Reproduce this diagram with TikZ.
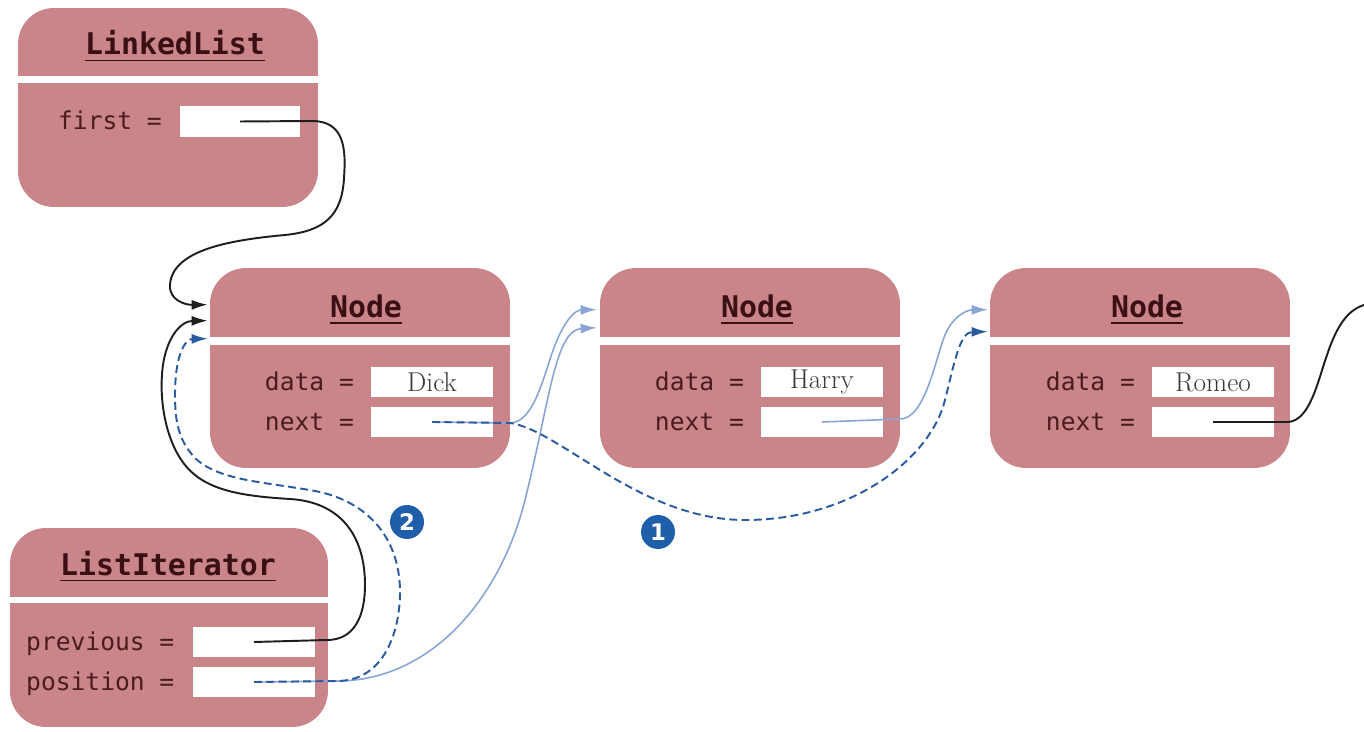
\documentclass[tikz,border=0pt]{standalone}
\usepackage{fontspec}
\setmonofont{DejaVu Sans Mono}
\newfontfamily\numfont{DejaVu Sans}
\usetikzlibrary{arrows.meta,calc}
\definecolor{objpink}{RGB}{201,133,137}
\definecolor{lbltext}{RGB}{74,28,32}
\definecolor{ttltext}{RGB}{58,16,21}
\definecolor{valtext}{RGB}{60,55,55}
\definecolor{lightblue}{RGB}{138,164,214}
\definecolor{darkblue}{RGB}{42,90,160}
\definecolor{badgeblue}{RGB}{31,94,168}
\definecolor{ptrblack}{RGB}{30,30,30}
\tikzset{
  obj/.style={rectangle, rounded corners=0.72cm, fill=objpink, inner sep=0pt, minimum width=6cm, minimum height=3.98cm},
  ttl/.style={font=\fontsize{17}{20}\selectfont\ttfamily\bfseries, text=ttltext, inner sep=0pt, anchor=base},
  ul/.style={draw=ttltext, line width=1.1pt},
  lbl/.style={font=\fontsize{14}{16}\selectfont\ttfamily, text=lbltext, inner sep=0pt, anchor=mid east, yshift=-0.09cm},
  fld/.style={rectangle, fill=white, inner sep=0pt, minimum width=2.44cm, minimum height=0.6cm, font=\fontsize{15.5}{18}\selectfont, text=valtext},
  blackptr/.style={draw=ptrblack, line width=1.1pt, -{Latex[length=0.32cm,width=0.2cm]}},
  lightptr/.style={draw=lightblue, line width=0.9pt, -{Latex[length=0.32cm,width=0.2cm]}},
  dashptr/.style={draw=darkblue, line width=1.1pt, dash pattern=on 4.5pt off 2.5pt, -{Latex[length=0.32cm,width=0.2cm]}},
  badge/.style={circle, fill=badgeblue, text=white, minimum size=0.68cm, inner sep=0pt, font=\numfont\bfseries\fontsize{13}{15}\selectfont},
}
\begin{document}
\begin{tikzpicture}[x=0.02cm, y=-0.02cm]
\useasboundingbox (0,0) rectangle (1364,732);

% ---------- LinkedList ----------
\node[obj] (ll) at (168,107.5) {};
\fill[white] (ll.west |- 0,76) rectangle (ll.east |- 0,83);
\node[ttl] (llt) at (175,55) {LinkedList};
\draw[ul] ([yshift=-0.11cm]llt.base west) -- ([yshift=-0.11cm]llt.base east);
\node[fld, minimum width=2.4cm, minimum height=0.62cm] (llfirst) at (240,121.5) {};
\node[lbl] (llfirstl) at ([xshift=-0.35cm]llfirst.west) {first =};

% ---------- Node 1 ----------
\node[obj, minimum height=4cm] (n1) at (360,368) {};
\fill[white] (n1.west |- 0,337) rectangle (n1.east |- 0,345);
\node[ttl] (n1t) at (366,318) {Node};
\draw[ul] ([yshift=-0.1cm]n1t.base west) -- ([yshift=-0.1cm]n1t.base east);
\node[fld] (n1data) at (432,382) {Dick};
\node[fld] (n1next) at (432,422) {};
\node[lbl] (n1datal) at ([xshift=-0.33cm]n1data.west) {data =};
\node[lbl] (n1nextl) at ([xshift=-0.33cm]n1next.west) {next =};

% ---------- Node 2 ----------
\node[obj, minimum height=4cm] (n2) at (750,368) {};
\fill[white] (n2.west |- 0,337) rectangle (n2.east |- 0,345);
\node[ttl] (n2t) at (757,318) {Node};
\draw[ul] ([yshift=-0.1cm]n2t.base west) -- ([yshift=-0.1cm]n2t.base east);
\node[fld] (n2data) at (822,382) {Harry};
\node[fld] (n2next) at (822,422) {};
\node[lbl] (n2datal) at ([xshift=-0.33cm]n2data.west) {data =};
\node[lbl] (n2nextl) at ([xshift=-0.33cm]n2next.west) {next =};

% ---------- Node 3 ----------
\node[obj, minimum height=4cm] (n3) at (1140,368) {};
\fill[white] (n3.west |- 0,337) rectangle (n3.east |- 0,345);
\node[ttl] (n3t) at (1147,318) {Node};
\draw[ul] ([yshift=-0.1cm]n3t.base west) -- ([yshift=-0.1cm]n3t.base east);
\node[fld] (n3data) at (1213,382) {Romeo};
\node[fld] (n3next) at (1213,422) {};
\node[lbl] (n3datal) at ([xshift=-0.33cm]n3data.west) {data =};
\node[lbl] (n3nextl) at ([xshift=-0.33cm]n3next.west) {next =};

% ---------- ListIterator ----------
\node[obj, minimum width=6.36cm] (li) at (169,627.5) {};
\fill[white] (li.west |- 0,597) rectangle (li.east |- 0,603);
\node[ttl] (lit) at (168,575) {ListIterator};
\draw[ul] ([yshift=-0.11cm]lit.base west) -- ([yshift=-0.11cm]lit.base east);
\node[fld] (liprev) at (254,642) {};
\node[fld] (lipos) at (254,682) {};
\node[lbl] (liprevl) at ([xshift=-0.36cm]liprev.west) {previous =};
\node[lbl] (liposl) at ([xshift=-0.36cm]lipos.west) {position =};

% ---------- connectors ----------
\coordinate (offright) at (1364,305);

% first -> Node 1
\draw[blackptr] (llfirst.center) -- (312,121)
  .. controls (345,121) and (346,150) .. (344,178)
  .. controls (342,215) and (325,231) .. (285,235)
  .. controls (230,240) and (172,250) .. (170,285)
  .. controls (169,300) and (185,305) .. ($(n1.north west)+(-2,37)$);

% previous -> Node 1
\draw[blackptr] (liprev.center) -- (327,640)
  .. controls (355,640) and (365,615) .. (365,585)
  .. controls (365,535) and (340,502) .. (290,499)
  .. controls (240,496) and (205,490) .. (185,465)
  .. controls (165,440) and (160,400) .. (162,375)
  .. controls (164,340) and (180,321) .. ($(n1.north west)+(-2,53)$);

% position -> Node 2 (light)
\draw[lightptr] (lipos.center) -- (337,681)
  .. controls (430,681) and (500,600) .. (525,500)
  .. controls (550,400) and (555,330) .. ($(n2.north west)+(-3,60)$);

% position -> Node 1 (dashed, step 2)
\draw[dashptr] (lipos.center) -- (337,681)
  .. controls (385,681) and (400,630) .. (400,592)
  .. controls (400,545) and (375,505) .. (320,492)
  .. controls (270,482) and (220,482) .. (195,458)
  .. controls (178,440) and (175,420) .. (175,395)
  .. controls (175,355) and (185,339) .. ($(n1.north west)+(-2,71)$);

% Dick.next -> Node 2 (light)
\draw[lightptr] (n1next.center) -- (510,423)
  .. controls (535,423) and (545,370) .. (555,345)
  .. controls (565,320) and (575,310) .. ($(n2.north west)+(-3,42)$);

% Dick.next -> Node 3 (dashed, step 1)
\draw[dashptr] (n1next.center) -- (510,423)
  .. controls (560,430) and (640,520) .. (745,520)
  .. controls (850,520) and (930,460) .. (945,400)
  .. controls (955,360) and (960,332) .. ($(n3.north west)+(-2,64)$);

% Harry.next -> Node 3 (light)
\draw[lightptr] (n2next.center) -- (900,419)
  .. controls (925,419) and (935,360) .. (945,335)
  .. controls (952,318) and (965,310) .. ($(n3.north west)+(-2,42)$);

% Romeo.next -> off to the right
\draw[draw=ptrblack, line width=1.1pt] (n3next.center) -- (1287,422)
  .. controls (1310,422) and (1318,380) .. (1327,355)
  .. controls (1337,325) and (1348,310) .. (offright);

% ---------- step badges ----------
\node[badge] (b2) at (407,522) {2};
\node[badge] (b1) at (658,532) {1};
\end{tikzpicture}
\end{document}
